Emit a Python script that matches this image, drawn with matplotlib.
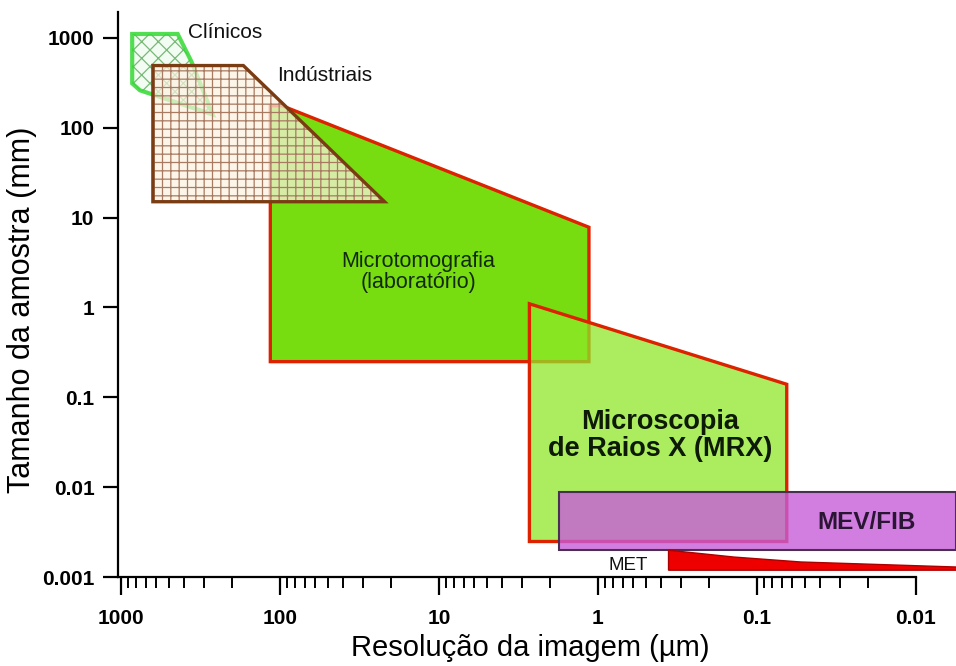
import matplotlib
matplotlib.use("Agg")
import matplotlib.pyplot as plt
from matplotlib.patches import Polygon
from matplotlib.ticker import FixedLocator, FixedFormatter, NullLocator

plt.rcParams['font.family'] = ['Liberation Sans', 'DejaVu Sans']
plt.rcParams['hatch.linewidth'] = 0.9

# resolution (um) vs sample size (mm) for each technique
clinicos_res = [850, 440, 360, 265, 760, 850]
clinicos_size = [1100, 1100, 540, 140, 260, 310]

industriais_res = [630, 170, 22, 630]
industriais_size = [490, 490, 15, 15]

micro_res = [115, 97, 1.14, 1.14, 115]
micro_size = [175, 175, 7.8, 0.25, 0.25]

mrx_res = [2.7, 0.065, 0.065, 2.7]
mrx_size = [1.1, 0.14, 0.0025, 0.0025]

mev_res = [1.76, 0.0056]
mev_size = [0.0089, 0.002]

met_res = [0.36, 0.14, 0.053, 0.02, 0.0055, 0.0055, 0.36]
met_size = [0.002, 0.00168, 0.00148, 0.0014, 0.0013, 0.0012, 0.0012]

x_ticks = [1000, 100, 10, 1, 0.1, 0.01]
x_labels = ["1000", "100", "10", "1", "0.1", "0.01"]
y_ticks = [1000, 100, 10, 1, 0.1, 0.01, 0.001]
y_labels = ["1000", "100", "10", "1", "0.1", "0.01", "0.001"]


def region(ax, xs, ys, face, edge, lw, z, hatch=None, hatch_color=None):
    pts = list(zip(xs, ys))
    if hatch:
        ax.add_patch(Polygon(pts, closed=True, facecolor=face, edgecolor=hatch_color,
                             linewidth=0, hatch=hatch, zorder=z, clip_on=False))
        face = 'none'
    ax.add_patch(Polygon(pts, closed=True, facecolor=face, edgecolor=edge,
                         linewidth=lw, zorder=z + 0.1, clip_on=False, joinstyle='miter'))


fig = plt.figure(figsize=(9.56, 6.66), dpi=100)
ax = fig.add_axes([118 / 956, 1 - 577.3 / 666, (916 - 118) / 956, (577.3 - 12) / 666])
ax.set_xscale('log')
ax.set_yscale('log')
ax.set_xlim(1044, 0.01)
ax.set_ylim(0.001, 1930)

region(ax, clinicos_res, clinicos_size, (0.95, 0.99, 0.95, 0.9), (0.2, 0.85, 0.2, 0.85), 3,
       1, hatch='xx', hatch_color='#78b878')
region(ax, micro_res, micro_size, '#77dd11', '#dd2200', 2.4, 2)
region(ax, industriais_res, industriais_size, (0.99, 0.95, 0.88, 0.72), '#7a3c12', 2.4, 3,
       hatch='++', hatch_color='#a87a62')
region(ax, mrx_res, mrx_size, (0.56, 0.91, 0.16, 0.75), '#dd2200', 2.4, 4)

xs = [mev_res[0], mev_res[1], mev_res[1], mev_res[0]]
ys = [mev_size[0], mev_size[0], mev_size[1], mev_size[1]]
region(ax, xs, ys, (0.78, 0.36, 0.85, 0.8), '#4a3050', 1.5, 5)
region(ax, met_res, met_size, '#ee0000', '#aa0000', 1.0, 6)

ax.text(378, 1128, "Clínicos", fontsize=15, ha='left', va='center', color='#111111')
ax.text(104, 375, "Indústriais", fontsize=15, ha='left', va='center', color='#111111')
ax.text(13.5, 2.48, "Microtomografia\n(laboratório)", fontsize=15.5, ha='center',
        va='center', color='#132a0a', linespacing=1.05, zorder=10)
ax.text(0.407, 0.0382, "Microscopia\nde Raios X (MRX)", fontsize=19.5, fontweight='bold',
        ha='center', va='center', color='#0d1a05', linespacing=1.05, zorder=10)
ax.text(0.0205, 0.00402, "MEV/FIB", fontsize=17.5, fontweight='bold', ha='center',
        va='center', color='#2a1535', zorder=10)
ax.text(0.649, 0.00137, "MET", fontsize=13.5, ha='center', va='center', color='#111111',
        zorder=10)

ax.spines['top'].set_visible(False)
ax.spines['right'].set_visible(False)
ax.spines['left'].set_linewidth(1.6)
ax.spines['bottom'].set_linewidth(1.6)

ax.xaxis.set_major_locator(FixedLocator(x_ticks))
ax.xaxis.set_major_formatter(FixedFormatter(x_labels))
ax.yaxis.set_major_locator(FixedLocator(y_ticks))
ax.yaxis.set_major_formatter(FixedFormatter(y_labels))
ax.yaxis.set_minor_locator(NullLocator())

ax.tick_params(axis='x', which='major', length=13, width=1.6, pad=10, labelsize=15)
ax.tick_params(axis='x', which='minor', length=8, width=1.4)
ax.tick_params(axis='y', which='major', length=11, width=1.6, pad=6, labelsize=15)
for lbl in ax.get_xticklabels() + ax.get_yticklabels():
    lbl.set_fontweight('bold')

ax.set_xlabel("Resolução da imagem (µm)", fontsize=21)
ax.set_ylabel("Tamanho da amostra (mm)", fontsize=22, va='center')
ax.xaxis.set_label_coords((530 - 118) / 798, -(648 - 577.3) / 565.3)
ax.xaxis.label.set_va('center')
ax.yaxis.set_label_coords(-(118 - 22) / 798, (577.3 - 310) / 565.3)

fig.savefig("out.png", dpi=100, facecolor='white')
